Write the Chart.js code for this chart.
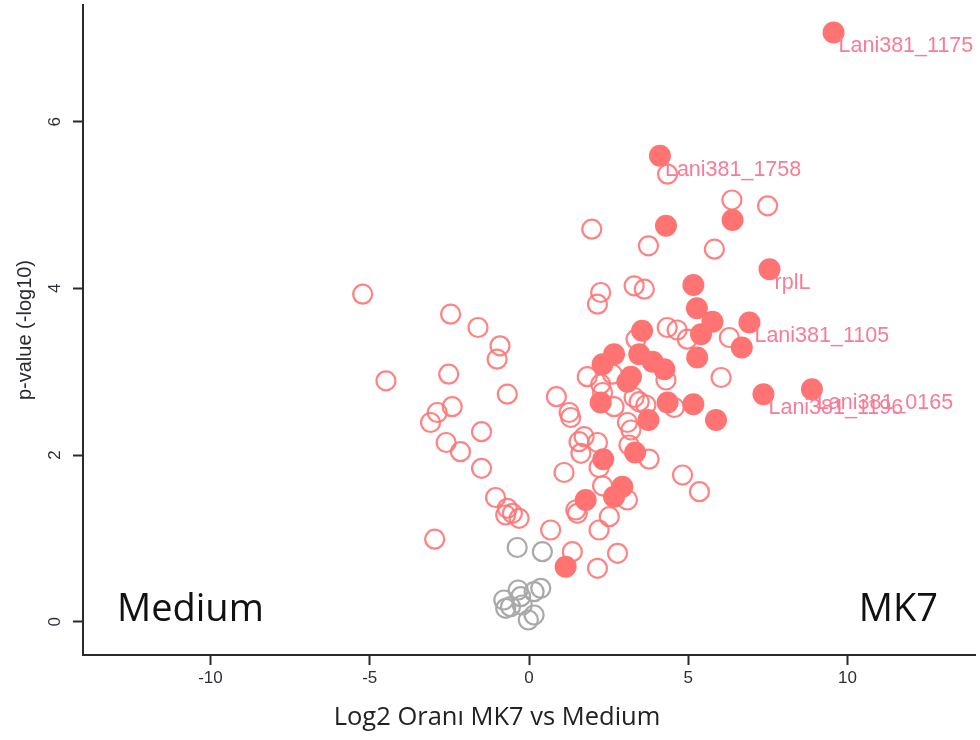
<!DOCTYPE html>
<html>
<head>
<meta charset="utf-8">
<title>Volcano plot: MK7 vs Medium</title>
<script src="https://cdn.jsdelivr.net/npm/chart.js@4.4.1/dist/chart.umd.min.js"></script>
<style>
  html, body { margin: 0; padding: 0; background: #ffffff; }
  #wrap { width: 980px; height: 740px; }
</style>
</head>
<body>
<div id="wrap"><canvas id="volcano" width="980" height="740"></canvas></div>
<script>
// Axis ticks
const xTicks = [-10, -5, 0, 5, 10];
const yTicks = [0, 2, 4, 6];

// Significant hits (filled markers) with their gene labels
const hitX = [9.56, 4.11, 4.30, 6.39, 7.55, 5.16, 5.27, 5.76, 6.92, 5.40, 6.68, 5.28,
              3.55, 2.67, 2.31, 3.46, 3.88, 4.25, 3.20, 3.09, 2.25, 4.35, 5.16, 3.75,
              5.87, 7.36, 8.88, 2.33, 3.33, 1.78, 2.67, 2.93, 1.15];
const hitY = [7.07, 5.59, 4.75, 4.82, 4.23, 4.04, 3.76, 3.60, 3.59, 3.45, 3.29, 3.17,
              3.49, 3.21, 3.09, 3.21, 3.12, 3.03, 2.94, 2.88, 2.63, 2.63, 2.61, 2.42,
              2.42, 2.73, 2.79, 1.95, 2.03, 1.46, 1.50, 1.62, 0.66];
const hitLabels = ['Lani381_1175', 'Lani381_1758', '', '', 'rplL', '', '', '', 'Lani381_1105', '', '', '',
                   '', '', '', '', '', '', '', '', '', '', '', '',
                   '', 'Lani381_1196', 'Lani381_0165', '', '', '', '', '', ''];

// Changed proteins (open red markers)
const changedX = [-5.22, -2.46, -1.60, -0.91, -1.00, -4.49, -2.52, -0.68, -2.41, -2.88, -3.09,
                  -1.49, -2.60, -2.15, -1.49, -1.05, -0.68, -0.73, -0.52, -0.31, -2.96,
                  0.68, 0.86, 1.26, 1.31, 1.83, 1.73, 1.57, 1.63, 2.15, 2.20, 1.10, 1.47, 1.52,
                  2.20, 2.52, 2.78, 2.15, 1.36, 2.25, 2.15, 3.30, 3.62, 1.97, 3.75, 5.82, 4.35,
                  6.37, 7.49, 4.34, 4.65, 4.97, 6.29, 6.03, 2.25, 2.62, 2.31, 3.36, 4.30, 3.46,
                  3.67, 3.30, 4.56, 3.09, 3.20, 2.67, 2.31, 3.14, 3.77, 4.82, 5.35, 3.09];
const changedY = [3.93, 3.69, 3.53, 3.31, 3.15, 2.89, 2.97, 2.73, 2.58, 2.51, 2.39,
                  2.28, 2.15, 2.04, 1.84, 1.49, 1.36, 1.28, 1.30, 1.24, 0.99,
                  1.10, 2.70, 2.51, 2.45, 2.94, 2.22, 2.16, 2.02, 2.15, 1.85, 1.79, 1.34, 1.30,
                  1.10, 1.26, 0.82, 0.64, 0.84, 3.95, 3.81, 4.03, 3.99, 4.71, 4.51, 4.47, 5.37,
                  5.06, 4.99, 3.53, 3.50, 3.39, 3.41, 2.93, 2.85, 2.97, 2.75, 3.39, 2.90, 2.64,
                  2.60, 2.69, 2.57, 2.39, 2.30, 2.58, 1.63, 2.12, 1.95, 1.76, 1.56, 1.46];

// Unchanged proteins (grey markers)
const flatX = [-0.37, 0.42, -0.79, -0.73, -0.34, -0.26, 0.37, 0.16, -0.21, -0.02, 0.16, -0.58];
const flatY = [0.89, 0.84, 0.26, 0.16, 0.38, 0.30, 0.40, 0.36, 0.20, 0.02, 0.08, 0.18];

const toPoints = (xs, ys) => xs.map((x, i) => ({ x: x, y: ys[i] }));

const RED = '#ff7373';
const RED_LINE = 'rgba(255, 118, 118, 0.9)';
const GREY_LINE = '#a9a9a9';
const LABEL_PINK = '#f67c97';

// Gene names next to the labelled hits, plus the two group captions
const annotations = {
  id: 'annotations',
  afterDatasetsDraw(chart) {
    const ctx = chart.ctx;
    const area = chart.chartArea;
    const meta = chart.getDatasetMeta(0);
    ctx.save();
    ctx.font = '21.5px "Liberation Sans", Arial, sans-serif';
    ctx.fillStyle = LABEL_PINK;
    ctx.textAlign = 'left';
    ctx.textBaseline = 'middle';
    meta.data.forEach((el, i) => {
      const name = hitLabels[i];
      if (name) ctx.fillText(name, el.x + 5, el.y + 14);
    });

    ctx.fillStyle = '#111111';
    ctx.font = '38px "Open Sans", sans-serif';
    ctx.textBaseline = 'middle';
    ctx.textAlign = 'left';
    ctx.fillText('Medium', area.left + 34, area.bottom - 45);
    ctx.textAlign = 'right';
    ctx.fillText('MK7', area.right - 37, area.bottom - 45);

    // x-axis title
    ctx.fillStyle = '#222222';
    ctx.font = '25.5px "Open Sans", sans-serif';
    ctx.textAlign = 'center';
    ctx.fillText('Log2 Oranı MK7 vs Medium', (area.left + area.right) / 2 - 32, 718);
    ctx.restore();
  }
};

new Chart(document.getElementById('volcano'), {
  type: 'scatter',
  data: {
    datasets: [
      {
        label: 'Hits',
        data: toPoints(hitX, hitY),
        pointStyle: 'circle',
        pointRadius: 11,
        pointBackgroundColor: RED,
        pointBorderColor: RED,
        pointBorderWidth: 0
      },
      {
        label: 'Changed',
        data: toPoints(changedX, changedY),
        pointStyle: 'circle',
        pointRadius: 9.5,
        pointBackgroundColor: 'rgba(0,0,0,0)',
        pointBorderColor: RED_LINE,
        pointBorderWidth: 2.2
      },
      {
        label: 'Unchanged',
        data: toPoints(flatX, flatY),
        pointStyle: 'circle',
        pointRadius: 9.5,
        pointBackgroundColor: 'rgba(0,0,0,0)',
        pointBorderColor: GREY_LINE,
        pointBorderWidth: 2.2
      }
    ]
  },
  options: {
    responsive: false,
    animation: false,
    events: [],
    layout: { autoPadding: false, padding: { top: 5, right: 5, left: 0, bottom: 0 } },
    plugins: {
      legend: { display: false },
      tooltip: { enabled: false }
    },
    scales: {
      x: {
        type: 'linear',
        min: -14,
        max: 14,
        afterBuildTicks: s => { s.ticks = xTicks.map(v => ({ value: v })); },
        afterFit: s => { s.height = 85; s.paddingLeft = 0; s.paddingRight = 0; },
        border: { display: true, color: '#2a2a2a', width: 2 },
        grid: { display: true, drawOnChartArea: false, drawTicks: true, tickLength: 10, tickColor: '#2a2a2a', tickWidth: 2 },
        ticks: {
          color: '#2e2e3a',
          padding: 3,
          maxRotation: 0,
          font: { family: '"Liberation Sans", Arial, sans-serif', size: 17 }
        },
        title: { display: false }
      },
      y: {
        type: 'linear',
        min: -0.4,
        max: 7.4,
        afterBuildTicks: s => { s.ticks = yTicks.map(v => ({ value: v })); },
        afterFit: s => { s.width = 83; s.paddingTop = 0; s.paddingBottom = 0; },
        border: { display: true, color: '#2a2a2a', width: 2 },
        grid: { display: true, drawOnChartArea: false, drawTicks: true, tickLength: 10, tickColor: '#2a2a2a', tickWidth: 2 },
        ticks: {
          color: '#2e2e3a',
          padding: 13,
          minRotation: 90,
          maxRotation: 90,
          crossAlign: 'center',
          font: { family: '"Liberation Sans", Arial, sans-serif', size: 17 }
        },
        title: {
          display: true,
          text: 'p-value (-log10)',
          color: '#2b2a33',
          font: { family: '"Liberation Sans", Arial, sans-serif', size: 20 },
          padding: { top: 13, bottom: 0 }
        }
      }
    }
  },
  plugins: [annotations]
});
</script>
</body>
</html>
